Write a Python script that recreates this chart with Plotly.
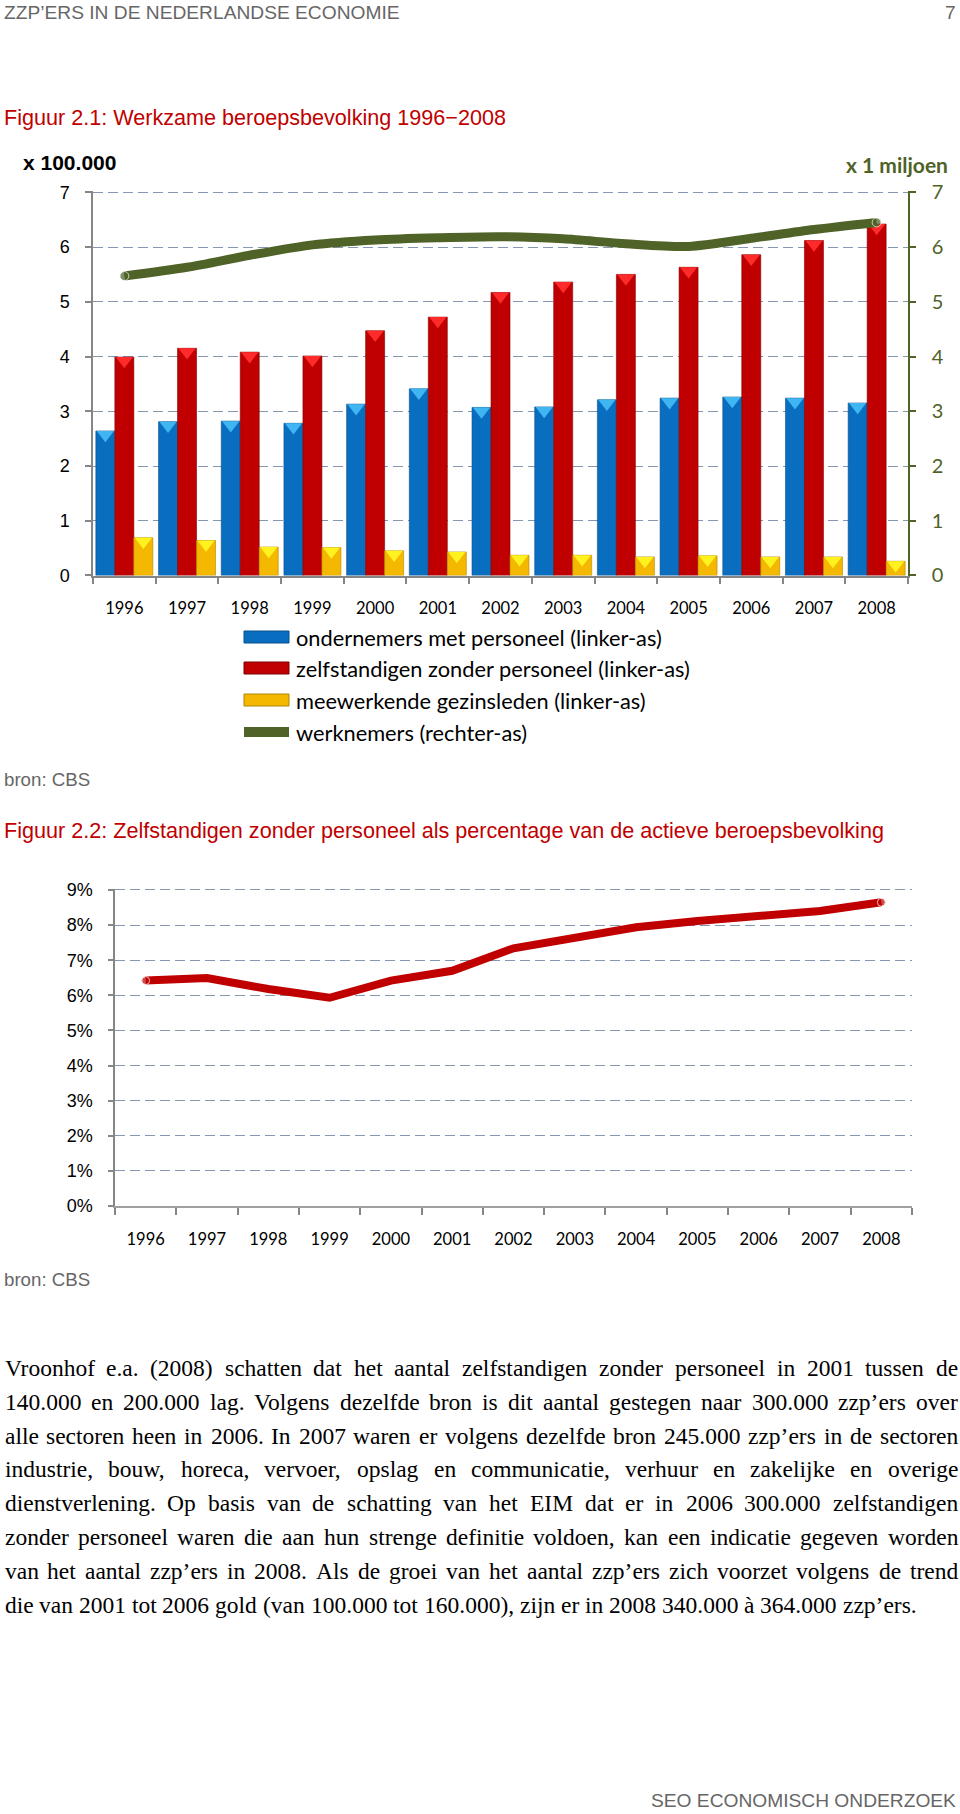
import plotly.graph_objects as go

# ---------------- data ----------------
years = [str(y) for y in range(1996, 2009)]
ondernemers = [2.64, 2.81, 2.82, 2.78, 3.13, 3.41, 3.07, 3.08, 3.21, 3.24, 3.26, 3.24, 3.15]
zzp = [3.99, 4.15, 4.08, 4.01, 4.47, 4.72, 5.17, 5.36, 5.50, 5.63, 5.86, 6.12, 6.42]
meewerkend = [0.69, 0.64, 0.52, 0.51, 0.45, 0.43, 0.37, 0.37, 0.34, 0.36, 0.34, 0.34, 0.26]
werknemers = [5.47, 5.63, 5.85, 6.04, 6.13, 6.17, 6.19, 6.15, 6.06, 6.01, 6.16, 6.32, 6.45]
zzp_pct = [6.42, 6.49, 6.18, 5.93, 6.42, 6.70, 7.34, 7.65, 7.94, 8.12, 8.26, 8.40, 8.65]

legend_labels = [
    "ondernemers met personeel (linker-as)",
    "zelfstandigen zonder personeel (linker-as)",
    "meewerkende gezinsleden (linker-as)",
    "werknemers (rechter-as)",
]

paragraph = [
    "Vroonhof e.a. (2008) schatten dat het aantal zelfstandigen zonder personeel in 2001 tussen de",
    "140.000 en 200.000 lag. Volgens dezelfde bron is dit aantal gestegen naar 300.000 zzp’ers over",
    "alle sectoren heen in 2006. In 2007 waren er volgens dezelfde bron 245.000 zzp’ers in de sectoren",
    "industrie, bouw, horeca, vervoer, opslag en communicatie, verhuur en zakelijke en overige",
    "dienstverlening. Op basis van de schatting van het EIM dat er in 2006 300.000 zelfstandigen",
    "zonder personeel waren die aan hun strenge definitie voldoen, kan een indicatie gegeven worden",
    "van het aantal zzp’ers in 2008. Als de groei van het aantal zzp’ers zich voorzet volgens de trend",
    "die van 2001 tot 2006 gold (van 100.000 tot 160.000), zijn er in 2008 340.000 à 364.000 zzp’ers.",
]

# ---------------- page geometry helpers ----------------
W, H = 960, 1814
def px(x):
    return x / W
def py(y):
    return 1 - y / H

unit_px1 = (575.5 - 192.3) / 7.0
unit_px2 = (1206 - 890) / 9.0
Y1_MAX, Y2_MAX = 7.02, 9.03
C1_X = (93, 908)
C1_Y = (192.3 - (Y1_MAX - 7) * unit_px1, 575.5)
C2_X = (115, 912)
C2_Y = (890 - (Y2_MAX - 9) * unit_px2, 1206)

BLUE, BLUE_CAP = "#0A6EC0", "#3FB6F2"
RED, RED_CAP = "#C00000", "#FF2A2A"
YEL, YEL_CAP = "#F5B800", "#FFF21F"
GREEN = "#4F6228"
GRID = "#8497B0"
AXIS = "#868686"

idx = list(range(len(years)))
bw = 0.303
offsets = [-1.5 * bw, -0.5 * bw, 0.5 * bw]

fig = go.Figure()

series = [(ondernemers, BLUE, BLUE_CAP, "#08508C"),
          (zzp, RED, RED_CAP, "#7F0000"),
          (meewerkend, YEL, YEL_CAP, "#B08400")]
for (vals, col, cap, edge), off in zip(series, offsets):
    fig.add_trace(go.Bar(x=idx, y=vals, width=bw, offset=off, marker=dict(color=col, line=dict(color=edge, width=0.6)),
                         xaxis="x", yaxis="y", hoverinfo="skip"))
for (vals, col, cap, edge), off in zip(series, offsets):
    cap_size = 15
    fig.add_trace(go.Scatter(x=[i + off + bw / 2 for i in idx], y=[v - (cap_size / 4) / unit_px1 for v in vals],
                             mode="markers", marker=dict(symbol="triangle-down", size=cap_size, color=cap, line=dict(width=0)),
                             xaxis="x", yaxis="y", hoverinfo="skip"))

end_sizes = [9] + [0] * (len(years) - 2) + [9]
fig.add_trace(go.Scatter(x=idx, y=werknemers, mode="lines+markers", line=dict(color=GREEN, width=9, shape="spline", smoothing=0.8),
                         marker=dict(size=end_sizes, color=GREEN), xaxis="x", yaxis="y2", hoverinfo="skip"))

fig.add_trace(go.Scatter(x=idx, y=zzp_pct, mode="lines+markers", line=dict(color=RED, width=8),
                         marker=dict(size=[8] + [0] * (len(years) - 2) + [8], color=RED), xaxis="x2", yaxis="y3", hoverinfo="skip"))

boundaries = [i - 0.5 for i in range(len(years) + 1)]

def xaxis_common(linecolor, linewidth):
    return dict(range=[-0.5, len(years) - 0.5], tickmode="array", tickvals=idx, ticktext=years, ticks="",
                showgrid=False, zeroline=False, showline=True, linecolor=linecolor, linewidth=linewidth,
                tickfont=dict(family="Lato", size=16.5, color="black"), automargin=False,
                minor=dict(tickmode="array", tickvals=boundaries, ticks="outside", ticklen=7, tickcolor=AXIS, tickwidth=1.5, showgrid=False),
                fixedrange=True, ticklabelstandoff=17)

fig.update_layout(
    width=W, height=H, margin=dict(l=0, r=0, t=0, b=0, autoexpand=False), autosize=False,
    paper_bgcolor="white", plot_bgcolor="rgba(0,0,0,0)", showlegend=False,
    xaxis=dict(domain=[px(C1_X[0]), px(C1_X[1])], anchor="y", **xaxis_common(AXIS, 1.5)),
    yaxis=dict(domain=[py(C1_Y[1]), py(C1_Y[0])], anchor="x", range=[0, Y1_MAX], tick0=0, dtick=1,
               ticks="outside", ticklen=6, tickcolor=AXIS, tickwidth=1.5, showline=True, linecolor=AXIS, linewidth=1.5,
               showgrid=True, gridcolor=GRID, gridwidth=1.3, griddash="10px,5px", zeroline=False, automargin=False,
               tickfont=dict(family="Liberation Sans", size=18, color="black"), ticklabelstandoff=12, fixedrange=True),
    yaxis2=dict(overlaying="y", side="right", anchor="x", range=[0, Y1_MAX], tick0=0, dtick=1,
                ticks="outside", ticklen=6, tickcolor=GREEN, tickwidth=1.5, showline=True, linecolor=GREEN, linewidth=1.5,
                showgrid=False, zeroline=False, tickfont=dict(family="Lato", size=20, color=GREEN), ticklabelstandoff=12,
                fixedrange=True, automargin=False),
    xaxis2=dict(domain=[px(C2_X[0]), px(C2_X[1])], anchor="y3", **xaxis_common("#A0A0A0", 2.2)),
    yaxis3=dict(domain=[py(C2_Y[1]), py(C2_Y[0])], anchor="x2", range=[0, Y2_MAX], tick0=0, dtick=1, ticksuffix="%",
                ticks="outside", ticklen=5, tickcolor=AXIS, tickwidth=1.5, showline=True, linecolor=AXIS, linewidth=1.5,
                showgrid=True, gridcolor=GRID, gridwidth=1.3, griddash="10px,5px", zeroline=False, automargin=False,
                tickfont=dict(family="Liberation Sans", size=18, color="black"), ticklabelstandoff=12, fixedrange=True),
)

ann = []
def text(x, y, s, size, color, family="Liberation Sans", xanchor="left"):
    ann.append(dict(x=px(x), y=py(y), xref="paper", yref="paper", text=s, showarrow=False, xanchor=xanchor,
                    yanchor="middle", font=dict(family=family, size=size, color=color), borderpad=0))

text(3, 13, "ZZP’ERS IN DE NEDERLANDSE ECONOMIE", 19.2, "#666666")
text(957, 13, "7", 19.2, "#666666", xanchor="right")
text(3, 117, "Figuur 2.1: Werkzame beroepsbevolking 1996−2008", 21.6, RED)
text(22, 162, "<b>x 100.000</b>", 21, "black")
text(949, 164, "<b>x 1 miljoen</b>", 21, GREEN, family="Lato", xanchor="right")
text(3, 779, "bron: CBS", 18.7, "#666666")
text(3, 830, "Figuur 2.2: Zelfstandigen zonder personeel als percentage van de actieve beroepsbevolking", 21.6, RED)
text(3, 1279, "bron: CBS", 18.7, "#666666")
text(957, 1800, "SEO ECONOMISCH ONDERZOEK", 19.2, "#666666", xanchor="right")

# legend (manual)
shapes = []
leg_y = [637, 668, 700, 732]
leg_cols = [(BLUE, "#08508C"), (RED, "#7F0000"), (YEL, "#B08400")]
for yc, (col, edge) in zip(leg_y[:3], leg_cols):
    shapes.append(dict(type="rect", xref="paper", yref="paper", x0=px(244), x1=px(289), y0=py(yc + 6), y1=py(yc - 6),
                       fillcolor=col, line=dict(color=edge, width=1)))
shapes.append(dict(type="line", xref="paper", yref="paper", x0=px(244), x1=px(289), y0=py(leg_y[3]), y1=py(leg_y[3]),
                   line=dict(color=GREEN, width=10)))
for yc, lab in zip(leg_y, legend_labels):
    text(295, yc, lab, 21.8, "black", family="Lato")

# justified paragraph in Liberation Serif (Times metrics)
TW = dict(zip("abcdefghijklmnopqrstuvwxyz",
              [444, 500, 444, 500, 444, 333, 500, 500, 278, 278, 500, 278, 778, 500, 500, 500, 500, 333, 389, 278, 500, 500, 722, 500, 500, 444]))
TW.update(dict(zip("ABCDEFGHIJKLMNOPQRSTUVWXYZ",
                   [722, 667, 667, 722, 611, 556, 722, 722, 333, 389, 722, 611, 889, 722, 722, 556, 722, 667, 556, 611, 722, 722, 944, 722, 722, 611])))
TW.update({c: 500 for c in "0123456789"})
TW.update({" ": 250, ".": 250, ",": 250, ":": 278, ";": 278, "(": 333, ")": 333, "’": 333, "'": 180, "-": 333, "à": 444})
KERN = {"Vo": -129, "Vr": -74, "Va": -111, "Ve": -111}

def wwidth(w, size):
    units = sum(TW.get(c, 500) for c in w)
    units += sum(KERN.get(w[i:i + 2], 0) for i in range(len(w) - 1))
    return units * size / 1000.0

P_SIZE = 23.5
P_LEFT, P_RIGHT = 3.5, 957
P_Y0, P_DY = 1368, 33.8
for li, line in enumerate(paragraph):
    yc = P_Y0 + li * P_DY
    words = line.split(" ")
    widths = [wwidth(w, P_SIZE) for w in words]
    if li < len(paragraph) - 1 and len(words) > 1:
        gap = (P_RIGHT - P_LEFT - sum(widths)) / (len(words) - 1)
    else:
        gap = 250 * P_SIZE / 1000.0
    xcur = P_LEFT
    for w, ww in zip(words, widths):
        text(xcur, yc, w, P_SIZE, "black", family="Liberation Serif")
        xcur += ww + gap

fig.update_layout(annotations=ann, shapes=shapes)
fig.write_html("out.html")
